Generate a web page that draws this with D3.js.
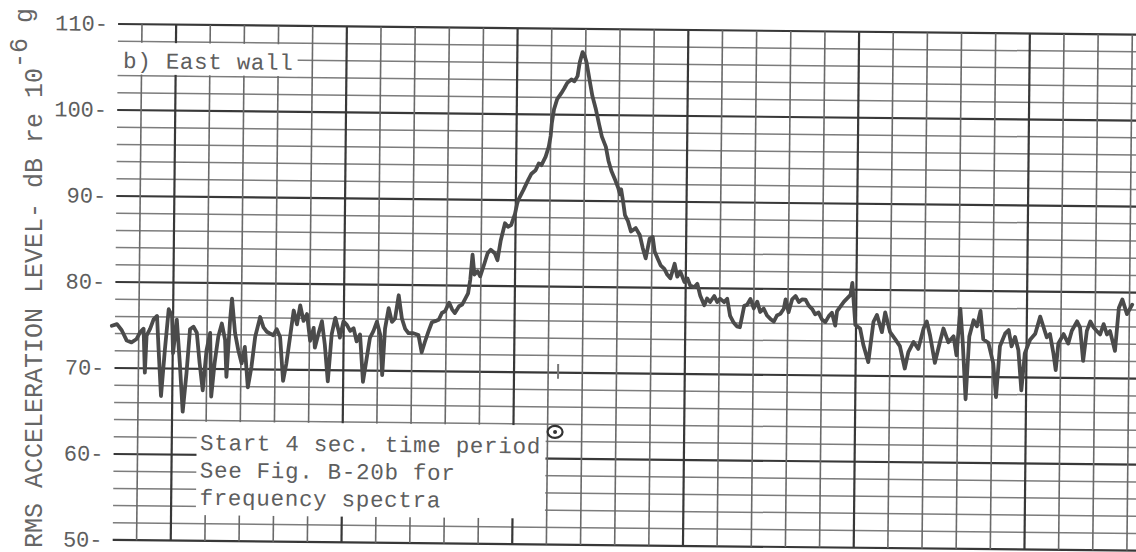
<!DOCTYPE html>
<html>
<head>
<meta charset="utf-8">
<script src="https://cdn.jsdelivr.net/npm/d3@7"></script>
<style>
  body { margin: 0; background: #fff; }
  svg { display: block; }
  text { font-family: "Liberation Mono", "DejaVu Sans Mono", monospace; fill: #5e5e5e; }
</style>
</head>
<body>
<div id="strip_chart"></div>
<script>
// level axis labels (dB re 10^-6 g)
const levelTicks = [50, 60, 70, 80, 90, 100, 110];
// chart paper: a horizontal line every 2 dB, vertical division lines 1..30
const levelLines = d3.range(50, 111, 2);
const divisions = d3.range(1, 31);

// trace: time in chart divisions, level in dB
const time = [
  0.21, 0.36, 0.50, 0.65, 0.79, 0.94, 1.04, 1.14, 1.19, 1.23, 1.33, 1.43, 1.53, 1.58, 1.67, 1.77,
  1.87, 1.97, 2.01, 2.11, 2.21, 2.31, 2.41, 2.50, 2.60, 2.70, 2.79, 2.89, 2.99, 3.09, 3.14, 3.23,
  3.33, 3.43, 3.53, 3.58, 3.67, 3.72, 3.82, 3.92, 4.02, 4.11, 4.21, 4.31, 4.41, 4.55, 4.65, 4.75,
  4.84, 4.94, 5.04, 5.14, 5.24, 5.33, 5.43, 5.53, 5.63, 5.72, 5.82, 5.92, 6.02, 6.12, 6.16, 6.26,
  6.36, 6.45, 6.55, 6.65, 6.75, 6.85, 6.89, 6.99, 7.09, 7.19, 7.29, 7.38, 7.48, 7.58, 7.68, 7.77,
  7.87, 7.97, 8.07, 8.14, 8.21, 8.31, 8.41, 8.50, 8.60, 8.70, 8.80, 8.90, 9.04, 9.19, 9.29, 9.38,
  9.48, 9.58, 9.72, 9.78, 9.87, 9.96, 10.08, 10.17, 10.25, 10.37, 10.46, 10.54, 10.63, 10.69,
  10.75, 10.81, 10.90, 10.98, 11.10, 11.19, 11.28, 11.40, 11.48, 11.57, 11.69, 11.78, 11.87, 11.98,
  12.04, 12.07, 12.22, 12.36, 12.45, 12.57, 12.66, 12.74, 12.86, 12.95, 13.00, 13.03, 13.09, 13.18,
  13.30, 13.39, 13.47, 13.59, 13.68, 13.77, 13.83, 13.91, 13.97, 14.03, 14.12, 14.21, 14.32, 14.41,
  14.50, 14.62, 14.70, 14.79, 14.91, 14.99, 15.05, 15.08, 15.14, 15.20, 15.29, 15.38, 15.52, 15.64,
  15.73, 15.82, 15.93, 16.02, 16.08, 16.17, 16.26, 16.37, 16.46, 16.55, 16.67, 16.75, 16.84, 16.96,
  17.05, 17.13, 17.25, 17.34, 17.43, 17.55, 17.63, 17.72, 17.84, 17.93, 18.01, 18.13, 18.22, 18.31,
  18.42, 18.51, 18.60, 18.72, 18.80, 18.90, 19.00, 19.10, 19.19, 19.29, 19.39, 19.49, 19.59, 19.68,
  19.78, 19.88, 19.93, 20.02, 20.12, 20.22, 20.32, 20.41, 20.51, 20.61, 20.71, 20.80, 20.90, 21.00,
  21.10, 21.20, 21.29, 21.39, 21.44, 21.64, 21.83, 21.88, 21.98, 22.12, 22.22, 22.37, 22.51, 22.61,
  22.76, 22.85, 23.00, 23.15, 23.29, 23.44, 23.54, 23.69, 23.83, 23.98, 24.07, 24.17, 24.32, 24.46,
  24.56, 24.71, 24.86, 24.95, 25.05, 25.13, 25.23, 25.32, 25.44, 25.54, 25.64, 25.73, 25.88, 26.03,
  26.12, 26.22, 26.37, 26.47, 26.56, 26.66, 26.76, 26.86, 26.95, 27.10, 27.25, 27.39, 27.49, 27.59,
  27.68, 27.79, 27.86, 27.93, 28.08, 28.22, 28.32, 28.47, 28.56, 28.66, 28.76, 28.86, 28.96, 29.05,
  29.15, 29.25, 29.35, 29.44, 29.59, 29.69, 29.79, 29.93, 30.08
];
const level = [
  74.9, 75.1, 74.4, 73.2, 73.0, 73.4, 74.2, 74.6, 69.5, 73.8, 74.6, 75.7, 76.1, 72.6, 66.8, 72.2,
  76.9, 76.1, 71.8, 75.7, 70.7, 65.0, 69.5, 74.6, 74.9, 74.2, 70.7, 67.5, 72.2, 74.2, 66.8, 70.7,
  73.8, 75.3, 73.4, 69.1, 75.7, 78.2, 74.2, 72.2, 70.7, 72.6, 67.9, 70.3, 73.8, 76.1, 74.9, 74.4,
  74.2, 74.0, 74.7, 73.8, 68.7, 70.7, 73.8, 76.9, 75.3, 77.5, 75.7, 76.5, 73.4, 74.9, 72.6, 74.2,
  75.7, 73.0, 68.7, 74.2, 76.1, 74.6, 73.8, 75.7, 75.3, 74.6, 74.9, 73.4, 74.2, 68.7, 71.4, 73.8,
  74.6, 75.7, 74.2, 69.5, 74.9, 77.3, 75.7, 76.1, 78.8, 76.1, 74.9, 74.4, 74.4, 74.2, 72.2, 73.4,
  74.6, 75.7, 75.9, 76.0, 76.8, 77.0, 78.0, 77.2, 76.8, 77.6, 77.8, 78.4, 79.1, 80.7,
  83.6, 81.3, 81.7, 81.1, 82.6, 83.8, 84.2, 83.8, 83.0, 85.3, 87.3, 86.9, 87.1, 88.4,
  89.6, 90.0, 91.2, 92.4, 93.1, 93.5, 94.3, 94.1, 95.1, 96.3, 97.5, 99.0, 100.6, 101.8,
  102.5, 103.1, 103.7, 104.1, 103.9, 104.5, 106.1, 107.3, 106.9, 106.1, 104.1, 102.2, 100.6, 99.0,
  97.5, 96.3, 94.7, 93.5, 92.4, 91.6, 90.8, 91.4, 90.0, 88.4, 87.7, 86.5, 86.9, 86.1,
  84.6, 83.4, 85.7, 85.9, 84.2, 83.4, 82.6, 82.2, 81.5, 81.1, 82.8, 81.3, 81.9, 80.7,
  81.1, 80.3, 80.1, 80.5, 79.1, 78.0, 78.8, 78.4, 79.1, 78.4, 78.8, 78.4, 78.8, 76.8,
  76.0, 75.6, 75.5, 78.0, 78.1, 78.8, 77.7, 78.5, 77.3, 77.7, 76.9, 76.5, 76.2, 76.9,
  77.1, 77.7, 78.8, 77.3, 78.8, 79.2, 78.5, 78.8, 78.8, 78.1, 77.7, 77.1, 77.3, 76.5,
  76.2, 76.9, 77.3, 75.8, 77.5, 78.6, 79.4, 80.8, 75.9, 75.5, 73.6, 71.6, 76.3, 77.1,
  75.1, 77.4, 75.1, 74.3, 73.5, 70.9, 72.8, 74.0, 73.2, 75.6, 76.4, 74.8, 71.6, 74.0,
  75.6, 74.0, 74.7, 72.5, 77.9, 74.0, 67.4, 74.7, 76.6, 75.9, 77.7, 74.4, 74.0, 71.6,
  67.7, 73.6, 75.1, 75.5, 73.6, 74.7, 73.2, 68.5, 72.8, 74.4, 75.1, 77.1, 75.9, 74.7,
  75.1, 72.8, 70.9, 74.0, 75.1, 74.0, 75.5, 76.6, 75.9, 72.0, 75.5, 76.6, 75.9, 75.5,
  75.1, 76.3, 75.1, 75.5, 73.2, 78.2, 79.2, 77.5, 78.6
];

// annotations
const panelLabel = "b) East wall";
const noteLines = ["Start 4 sec. time period", "See Fig. B-20b for", "frequency spectra"];
const startMark = { t: 13.22, db: 63.1 };

const width = 1136,
  height = 552;

const svg = d3
  .select("#strip_chart")
  .append("svg")
  .attr("width", width)
  .attr("height", height);

svg.append("rect").attr("width", width).attr("height", height).attr("fill", "#fff");

// the scanned sheet sits a little crooked
const paper = svg.append("g").attr("transform", "rotate(0.6, 118, 24)");

const x = d3.scaleLinear().domain([1, 30]).range([142, 142 + 29 * 34.15]);
const y = d3.scaleLinear().domain([50, 110]).range([540, 24]);
const left = x(0.3);

// horizontal chart lines
paper
  .selectAll(".hline")
  .data(levelLines)
  .enter()
  .append("line")
  .attr("x1", left)
  .attr("x2", width + 30)
  .attr("y1", (d) => y(d))
  .attr("y2", (d) => y(d))
  .attr("stroke", (d) => (d % 10 === 0 ? "#383838" : "#7c7c7c"))
  .attr("stroke-width", (d) => (d % 10 === 0 ? 2.2 : 1.5));

// vertical division lines, heavier every fifth
paper
  .selectAll(".vline")
  .data(divisions)
  .enter()
  .append("line")
  .attr("x1", (d) => x(d))
  .attr("x2", (d) => x(d))
  .attr("y1", y(110))
  .attr("y2", y(50))
  .attr("stroke", (d) => ((d - 2) % 5 === 0 ? "#383838" : "#6a6a6a"))
  .attr("stroke-width", (d) => ((d - 2) % 5 === 0 ? 2.2 : 1.6));

// blank label patches typed over the grid
paper
  .append("rect")
  .attr("x", left - 3)
  .attr("y", y(108) + 1.3)
  .attr("width", 298 - left + 3)
  .attr("height", y(104) - y(108) - 2.6)
  .attr("fill", "#fff");

paper
  .append("rect")
  .attr("x", 201)
  .attr("y", y(64) + 1.3)
  .attr("width", 550 - 201)
  .attr("height", y(53) - y(64) - 1.3)
  .attr("fill", "#fff");

// level labels
paper
  .selectAll(".ylabel")
  .data(levelTicks)
  .enter()
  .append("text")
  .attr("x", 108)
  .attr("y", (d) => y(d) + 7)
  .attr("text-anchor", "end")
  .style("font-size", "22px")
  .text((d) => d + "-");

// the trace
paper
  .append("path")
  .datum(d3.zip(time, level))
  .attr("fill", "none")
  .attr("stroke", "#4b4b4b")
  .attr("stroke-width", 3.8)
  .attr("stroke-linejoin", "round")
  .attr("stroke-linecap", "round")
  .attr(
    "d",
    d3
      .line()
      .x((d) => x(d[0]))
      .y((d) => y(d[1]))
  );

// panel label
paper
  .append("text")
  .attr("x", 123.5)
  .attr("y", 68)
  .style("font-size", "22.5px")
  .style("letter-spacing", "0.7px")
  .text(panelLabel);

// note about the start of the 4 second period
paper
  .selectAll(".note")
  .data(noteLines)
  .enter()
  .append("text")
  .attr("x", 204.5)
  .attr("y", (d, i) => 449 + i * 27.5)
  .style("font-size", "22.5px")
  .style("letter-spacing", "0.7px")
  .text((d) => d);

paper
  .append("ellipse")
  .attr("cx", x(startMark.t))
  .attr("cy", y(startMark.db))
  .attr("rx", 7.5)
  .attr("ry", 6)
  .attr("fill", "none")
  .attr("stroke", "#333")
  .attr("stroke-width", 2.2);

paper
  .append("circle")
  .attr("cx", x(startMark.t))
  .attr("cy", y(startMark.db))
  .attr("r", 2)
  .attr("fill", "#333");

// small pen tick under the peak
paper
  .append("line")
  .attr("x1", x(13.29))
  .attr("x2", x(13.29))
  .attr("y1", y(71.0))
  .attr("y2", y(69.3))
  .attr("stroke", "#777")
  .attr("stroke-width", 2);

// axis title, typed sideways
const title = svg
  .append("text")
  .attr("transform", "translate(42,548) rotate(-90)")
  .style("font-size", "25px")
  .style("fill", "#666");

title.append("tspan").text("RMS ACCELERATION LEVEL- dB re 10");
title.append("tspan").attr("dy", -15).text("-6");
title.append("tspan").attr("dy", 5).text(" g");
</script>
</body>
</html>
